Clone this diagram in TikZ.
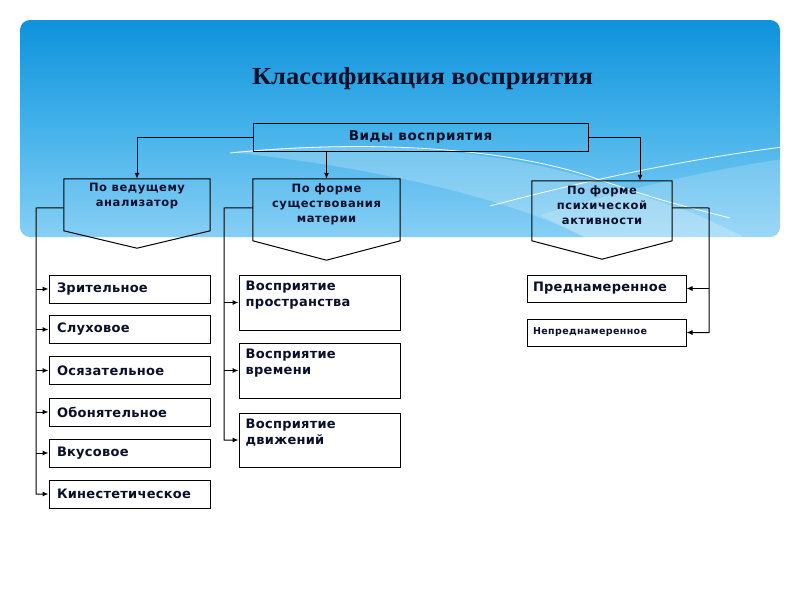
\documentclass[tikz,border=0pt]{standalone}
\usepackage{fontspec}
\usepackage{graphicx}
\usetikzlibrary{arrows.meta,calc}
\newfontfamily\labf[LetterSpace=2]{DejaVu Sans}
\newfontfamily\topf[LetterSpace=4]{DejaVu Sans}
\newfontfamily\pentf[LetterSpace=5]{DejaVu Sans}
\newfontfamily\smallf[LetterSpace=4]{DejaVu Sans}
\newfontfamily\ttlf{Liberation Serif}
\definecolor{bantop}{HTML}{0E92DC}
\definecolor{banmid}{HTML}{45B2EA}
\definecolor{banbot}{HTML}{86CFF5}
\definecolor{ink}{HTML}{0A0F2A}
\begin{document}
\begin{tikzpicture}[x=1pt,y=-1pt,
  conn/.style={line width=1pt, draw=black},
  arr/.style={conn,-{Latex[length=6pt,width=5pt]}},
  lbox/.style={draw=black, line width=1pt, fill=white, minimum height=28pt, inner xsep=8pt, inner ysep=0pt,
    text width=145pt, align=left, font=\labf\bfseries\fontsize{13}{16}\selectfont, text=ink},
  mbox/.style={draw=black, line width=1pt, fill=white, minimum width=161pt, inner sep=0pt},
  mtext/.style={anchor=north west, inner sep=0pt, align=left, font=\labf\bfseries\fontsize{13}{16.5}\selectfont, text=ink},
  rbox/.style={draw=black, line width=1pt, fill=white, minimum height=27pt, inner xsep=6pt, inner ysep=0pt,
    text width=147pt, align=left, text=ink},
  pent/.style={draw=none, inner sep=0pt},
  ptext/.style={anchor=north, inner sep=0pt, align=center, font=\pentf\bfseries\fontsize{11.5}{15}\selectfont, text=ink},
  topbox/.style={draw=black, line width=1pt, minimum width=335pt, minimum height=28pt, inner sep=0pt,
    font=\topf\bfseries\fontsize{13.5}{14}\selectfont, text=ink}
]
\useasboundingbox (0,0) rectangle (800,600);
\fill[white] (0,0) rectangle (800,600);
% banner
\shade[top color=bantop, bottom color=banbot, middle color=banmid, rounded corners=10pt] (20,20) rectangle (780,237);
\begin{scope}
  \clip[rounded corners=10pt] (20,20) rectangle (780,237);
  \fill[white,opacity=0.22] (230,152) .. controls (380,138) and (520,150) .. (640,195) .. controls (700,215) .. (760,245) -- (600,245) .. controls (520,200) and (380,168) .. (230,152) -- cycle;
  \fill[white,opacity=0.18] (540,215) .. controls (640,185) and (720,168) .. (790,158) -- (790,245) -- (600,245) -- cycle;
  \draw[white, line width=0.8pt] (230,153) .. controls (380,138) and (520,150) .. (600,180) .. controls (660,200) .. (730,218);
  \draw[white, line width=0.8pt] (490,206) .. controls (580,182) and (680,160) .. (790,146);
\end{scope}
% title
\node[anchor=base, inner sep=0pt, text=ink] (title) at (422.5,84) {\resizebox{341pt}{\height}{\ttlf\bfseries\fontsize{24.5}{26}\selectfont Классификация восприятия}};
% top box
\node[topbox] (top) at (420.5,137) {Виды восприятия};
% pentagons
\node[pent, minimum width=146pt, minimum height=69pt] (p1) at (137,213.5) {};
\node[pent, minimum width=147pt, minimum height=81pt] (p2) at (326.5,219.5) {};
\node[pent, minimum width=140pt, minimum height=78pt] (p3) at (602,220) {};
\draw[conn] (p1.north west) -- (p1.north east) -- ($(p1.north east)+(0,52)$) -- (p1.south) -- ($(p1.north west)+(0,52)$) -- cycle;
\draw[conn] (p2.north west) -- (p2.north east) -- ($(p2.north east)+(0,62)$) -- (p2.south) -- ($(p2.north west)+(0,62)$) -- cycle;
\draw[conn] (p3.north west) -- (p3.north east) -- ($(p3.north east)+(0,60)$) -- (p3.south) -- ($(p3.north west)+(0,60)$) -- cycle;
\node[ptext] (p1t) at (137,183) {По ведущему\\анализатор};
\node[ptext] (p2t) at (326.5,184) {По форме\\существования\\материи};
\node[ptext] (p3t) at (602,186) {По форме\\психической\\активности};
% left column
\node[lbox] (b1) at (129.5,289) {Зрительное};
\node[lbox] (b2) at (129.5,329.5) {Слуховое};
\node[lbox] (b3) at (129.5,370.5) {Осязательное};
\node[lbox] (b4) at (129.5,412) {Обонятельное};
\node[lbox] (b5) at (129.5,453) {Вкусовое};
\node[lbox] (b6) at (129.5,494) {Кинестетическое};
% middle column
\node[mbox, minimum height=55pt] (m1) at (319.5,302.5) {};
\node[mbox, minimum height=55pt] (m2) at (319.5,370.5) {};
\node[mbox, minimum height=54pt] (m3) at (319.5,440) {};
\node[mtext] (m1t) at ($(m1.north west)+(7,6)$) {Восприятие\\пространства};
\node[mtext] (m2t) at ($(m2.north west)+(7,6)$) {Восприятие\\времени};
\node[mtext] (m3t) at ($(m3.north west)+(7,6)$) {Восприятие\\движений};
% right column
\node[rbox, font=\labf\bfseries\fontsize{13}{14}\selectfont] (r1) at (606.5,288.5) {Преднамеренное};
\node[rbox, font=\smallf\bfseries\fontsize{9.5}{12}\selectfont] (r2) at (606.5,332.5) {Непреднамеренное};
% connectors
\coordinate (lv) at (36,208);
\coordinate (mv) at (224,208);
\coordinate (rv) at (709,208);
\draw[arr] (top.west) -| (p1.north);
\draw[arr] (top.south -| p2.north) -- (p2.north);
\draw[arr] (top.east) -| ($(p3.north)+(38,0)$);
\draw[arr] ($(p1.north west)+(0,29)$) -- (lv) |- (b6.west);
\foreach \b in {b1,b2,b3,b4,b5} \draw[arr] (lv |- \b.west) -- (\b.west);
\draw[arr] ($(p2.north west)+(0,29)$) -- (mv) |- (m3.west);
\foreach \b in {m1,m2} \draw[arr] (mv |- \b.west) -- (\b.west);
\draw[arr] ($(p3.north east)+(0,27)$) -- (rv) |- (r2.east);
\draw[arr] (rv |- r1.east) -- (r1.east);
\end{tikzpicture}
\end{document}
